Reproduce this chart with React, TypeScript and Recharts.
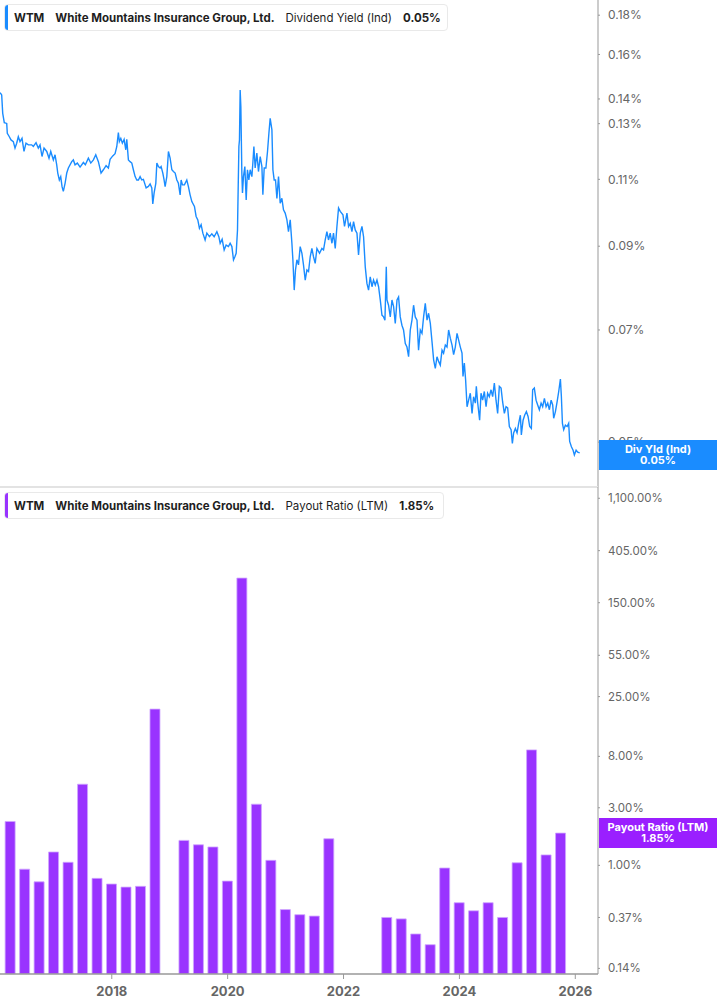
import React from "react";
import { ComposedChart, LineChart, Line, Bar, XAxis, YAxis } from "recharts";

// daily dividend yield (%); time as fractional year
const yieldYears = [
  2016.073, 2016.1, 2016.118, 2016.145, 2016.187, 2016.197, 2016.232, 2016.261, 2016.301, 2016.33,
  2016.359, 2016.387, 2016.416, 2016.451, 2016.485, 2016.52, 2016.56, 2016.618, 2016.646, 2016.693,
  2016.732, 2016.762, 2016.796, 2016.831, 2016.878, 2016.917, 2016.947, 2016.992, 2017.021, 2017.05,
  2017.068, 2017.095, 2017.119, 2017.142, 2017.164, 2017.194, 2017.223, 2017.251, 2017.309, 2017.337,
  2017.366, 2017.406, 2017.453, 2017.51, 2017.544, 2017.596, 2017.638, 2017.683, 2017.724, 2017.769,
  2017.815, 2017.855, 2017.902, 2017.942, 2017.971, 2018.017, 2018.057, 2018.087, 2018.114, 2018.131,
  2018.156, 2018.183, 2018.213, 2018.242, 2018.259, 2018.287, 2018.316, 2018.346, 2018.373, 2018.403,
  2018.432, 2018.46, 2018.489, 2018.518, 2018.546, 2018.593, 2018.632, 2018.662, 2018.691, 2018.708,
  2018.731, 2018.76, 2018.778, 2018.805, 2018.834, 2018.852, 2018.881, 2018.903, 2018.921, 2018.95,
  2018.978, 2019.007, 2019.037, 2019.064, 2019.094, 2019.123, 2019.15, 2019.18, 2019.197, 2019.22,
  2019.254, 2019.295, 2019.323, 2019.352, 2019.382, 2019.427, 2019.456, 2019.485, 2019.513, 2019.542,
  2019.572, 2019.611, 2019.641, 2019.686, 2019.727, 2019.767, 2019.814, 2019.848, 2019.871, 2019.905,
  2019.94, 2019.974, 2020.014, 2020.043, 2020.073, 2020.101, 2020.125, 2020.147, 2020.17, 2020.176,
  2020.194, 2020.204, 2020.216, 2020.228, 2020.245, 2020.256, 2020.273, 2020.297, 2020.32, 2020.342,
  2020.366, 2020.389, 2020.418, 2020.435, 2020.453, 2020.475, 2020.504, 2020.532, 2020.562, 2020.591,
  2020.608, 2020.631, 2020.66, 2020.688, 2020.712, 2020.734, 2020.764, 2020.781, 2020.803, 2020.826,
  2020.85, 2020.878, 2020.907, 2020.936, 2020.964, 2020.993, 2021.023, 2021.05, 2021.08, 2021.109,
  2021.126, 2021.149, 2021.171, 2021.195, 2021.223, 2021.252, 2021.282, 2021.309, 2021.339, 2021.368,
  2021.396, 2021.425, 2021.454, 2021.482, 2021.511, 2021.541, 2021.586, 2021.627, 2021.655, 2021.684,
  2021.713, 2021.741, 2021.77, 2021.8, 2021.827, 2021.857, 2021.886, 2021.914, 2021.943, 2021.99,
  2022.017, 2022.059, 2022.087, 2022.116, 2022.145, 2022.173, 2022.202, 2022.232, 2022.259, 2022.289,
  2022.318, 2022.346, 2022.375, 2022.404, 2022.432, 2022.461, 2022.491, 2022.518, 2022.548, 2022.577,
  2022.605, 2022.634, 2022.663, 2022.691, 2022.715, 2022.738, 2022.75, 2022.777, 2022.807, 2022.836,
  2022.864, 2022.893, 2022.923, 2022.95, 2022.979, 2023.008, 2023.036, 2023.066, 2023.095, 2023.123,
  2023.152, 2023.181, 2023.209, 2023.238, 2023.268, 2023.295, 2023.325, 2023.354, 2023.382, 2023.411,
  2023.441, 2023.468, 2023.498, 2023.527, 2023.555, 2023.584, 2023.613, 2023.641, 2023.67, 2023.7,
  2023.727, 2023.757, 2023.786, 2023.814, 2023.843, 2023.873, 2023.9, 2023.929, 2023.959, 2023.987,
  2024.016, 2024.045, 2024.062, 2024.085, 2024.107, 2024.132, 2024.159, 2024.188, 2024.218, 2024.245,
  2024.275, 2024.292, 2024.314, 2024.349, 2024.373, 2024.401, 2024.43, 2024.46, 2024.487, 2024.516,
  2024.546, 2024.574, 2024.603, 2024.632, 2024.66, 2024.689, 2024.719, 2024.746, 2024.776, 2024.805,
  2024.833, 2024.862, 2024.892, 2024.914, 2024.936, 2024.966, 2024.995, 2025.023, 2025.052, 2025.069,
  2025.099, 2025.126, 2025.156, 2025.185, 2025.213, 2025.242, 2025.264, 2025.293, 2025.323, 2025.351,
  2025.38, 2025.41, 2025.437, 2025.467, 2025.496, 2025.524, 2025.553, 2025.583, 2025.61, 2025.627,
  2025.657, 2025.686, 2025.714, 2025.743, 2025.76, 2025.778, 2025.8, 2025.829, 2025.859, 2025.886,
  2025.903, 2025.933, 2025.962, 2025.984, 2026.014, 2026.042, 2026.076,
];

const yieldValues = [
  0.1427, 0.1417, 0.1341, 0.1304, 0.1301, 0.1263, 0.125, 0.1238, 0.1232, 0.1208,
  0.1226, 0.125, 0.1232, 0.1244, 0.1196, 0.1226, 0.122, 0.122, 0.1214, 0.1228,
  0.1208, 0.122, 0.1178, 0.1208, 0.1196, 0.1172, 0.1196, 0.1166, 0.1184, 0.1149,
  0.1121, 0.1098, 0.1109, 0.1076, 0.1061, 0.1087, 0.1121, 0.1138, 0.116, 0.1166,
  0.1149, 0.1155, 0.1141, 0.1157, 0.1149, 0.1172, 0.1155, 0.1166, 0.1184, 0.116,
  0.1121, 0.1132, 0.1146, 0.1138, 0.1168, 0.118, 0.1188, 0.1214, 0.1266, 0.1232,
  0.1244, 0.1226, 0.124, 0.1202, 0.124, 0.1166, 0.116, 0.1155, 0.1132, 0.1109,
  0.1098, 0.1098, 0.1109, 0.1098, 0.11, 0.1072, 0.1077, 0.1085, 0.1072, 0.1022,
  0.1056, 0.1087, 0.1155, 0.1143, 0.1138, 0.1143, 0.1121, 0.1098, 0.1076, 0.1109,
  0.1196, 0.1172, 0.1132, 0.1126, 0.1121, 0.1098, 0.1087, 0.105, 0.1098, 0.1082,
  0.1082, 0.1098, 0.1076, 0.105, 0.1029, 0.1014, 0.0984, 0.0974, 0.095, 0.096,
  0.0936, 0.0917, 0.0936, 0.0926, 0.0934, 0.0926, 0.094, 0.0926, 0.0908, 0.0919,
  0.089, 0.0903, 0.0899, 0.0908, 0.0899, 0.0864, 0.0872, 0.0881, 0.0945, 0.1009,
  0.1214, 0.1238, 0.1438, 0.1368, 0.1121, 0.1056, 0.1109, 0.1143, 0.1034, 0.1132,
  0.1098, 0.1132, 0.1109, 0.1155, 0.1214, 0.1138, 0.119, 0.1126, 0.1178, 0.1143,
  0.105, 0.1138, 0.1138, 0.1196, 0.1263, 0.1321, 0.1276, 0.1132, 0.1098, 0.1098,
  0.1039, 0.1109, 0.1024, 0.1039, 0.1004, 0.0994, 0.0974, 0.094, 0.0974, 0.0908,
  0.0864, 0.0789, 0.0838, 0.0864, 0.0851, 0.0899, 0.0881, 0.0851, 0.0813, 0.0838,
  0.0834, 0.0872, 0.0894, 0.0872, 0.0855, 0.0894, 0.0881, 0.0894, 0.089, 0.0917,
  0.094, 0.0917, 0.0936, 0.0908, 0.0936, 0.0894, 0.0955, 0.1009, 0.0999, 0.0989,
  0.0955, 0.0994, 0.0955, 0.0964, 0.094, 0.0969, 0.0945, 0.0936, 0.0877, 0.0936,
  0.0955, 0.0926, 0.0846, 0.0805, 0.0789, 0.0821, 0.0797, 0.0813, 0.0801, 0.0813,
  0.0797, 0.0766, 0.0732, 0.0728, 0.0721, 0.0846, 0.0766, 0.0754, 0.0728, 0.0766,
  0.0751, 0.0714, 0.0766, 0.0773, 0.0728, 0.071, 0.07, 0.0672, 0.0665, 0.0646,
  0.07, 0.0721, 0.0754, 0.0728, 0.0721, 0.0659, 0.07, 0.0693, 0.0728, 0.0758,
  0.0721, 0.0736, 0.0714, 0.0676, 0.064, 0.0624, 0.0646, 0.0637, 0.063, 0.0659,
  0.0653, 0.0669, 0.0665, 0.07, 0.0683, 0.0669, 0.065, 0.0665, 0.0693, 0.0679,
  0.0665, 0.0653, 0.0609, 0.0634, 0.0603, 0.0556, 0.0567, 0.0579, 0.0545, 0.0573,
  0.0562, 0.0591, 0.0564, 0.0534, 0.0579, 0.0567, 0.0582, 0.0556, 0.0579, 0.0573,
  0.0585, 0.0573, 0.0597, 0.0567, 0.0545, 0.0591, 0.0588, 0.0564, 0.0545, 0.0556,
  0.0554, 0.0524, 0.0519, 0.0498, 0.0514, 0.0521, 0.0514, 0.0529, 0.0542, 0.0511,
  0.0534, 0.0542, 0.0548, 0.054, 0.0524, 0.0521, 0.0585, 0.0588, 0.0567, 0.0559,
  0.0551, 0.0562, 0.0556, 0.057, 0.0556, 0.0562, 0.0551, 0.0567, 0.0559, 0.0537,
  0.0548, 0.0564, 0.0582, 0.0604, 0.0573, 0.0529, 0.0519, 0.0526, 0.0524, 0.0529,
  0.0501, 0.0493, 0.0488, 0.0481, 0.0488, 0.0485, 0.0484,
];

// quarterly payout ratio (LTM, %), quarter-end dates as fractional year
const payoutQuarters = [
  2016.25, 2016.5, 2016.75, 2017.0, 2017.25, 2017.5, 2017.75, 2018.0, 2018.25,
  2018.5, 2018.75, 2019.25, 2019.5, 2019.75, 2020.0, 2020.25, 2020.5, 2020.75, 2021.0,
  2021.25, 2021.5, 2021.75, 2022.75, 2023.0, 2023.25, 2023.5, 2023.75, 2024.0, 2024.25,
  2024.5, 2024.75, 2025.0, 2025.25, 2025.5, 2025.75,
];
const payoutValues = [
  2.31, 0.93, 0.73, 1.29, 1.06, 4.7, 0.78, 0.7, 0.66,
  0.67, 19.7, 1.61, 1.48, 1.42, 0.74, 240, 3.21, 1.1, 0.43,
  0.39, 0.38, 1.66, 0.37, 0.36, 0.27, 0.22, 0.95, 0.49, 0.42,
  0.49, 0.37, 1.05, 9.05, 1.22, 1.85,
];

const yieldTicks = [0.05, 0.07, 0.09, 0.11, 0.13, 0.14, 0.16, 0.18];
const payoutTicks = [0.14, 0.37, 1, 3, 8, 25, 55, 150, 405, 1100];
const yearTicks = [2018, 2020, 2022, 2024, 2026];

const yieldData = yieldYears.map((t, i) => ({ t, v: yieldValues[i] }));
const payoutData = payoutQuarters.map((t, i) => ({ t, v: payoutValues[i] }));

const BLUE = "#1a8cff";
const PURPLE = "#9933ff";
const FONT = "Inter, sans-serif";
const X_DOMAIN = [2016.071, 2026.392];

function Legend({ top, width, color, metric, value }) {
  return (
    <div
      style={{
        position: "absolute",
        left: 4,
        top,
        width,
        height: 27,
        boxSizing: "border-box",
        border: "1px solid #e9e9e9",
        borderRadius: 4,
        background: "#fff",
        display: "flex",
        alignItems: "center",
        fontFamily: FONT,
        fontSize: 11.5,
        color: "#1e1e1e",
        overflow: "hidden",
        whiteSpace: "nowrap",
      }}
    >
      <div style={{ width: 3, alignSelf: "stretch", background: color }} />
      <span style={{ fontWeight: 700, marginLeft: 6 }}>WTM</span>
      <span style={{ fontWeight: 700, marginLeft: 11 }}>White Mountains Insurance Group, Ltd.</span>
      <span style={{ marginLeft: 11 }}>{metric}</span>
      <span style={{ fontWeight: 700, marginLeft: 11 }}>{value}</span>
    </div>
  );
}

function Tag({ top, color, label, value }) {
  return (
    <div
      style={{
        position: "absolute",
        left: 599,
        top,
        width: 118,
        height: 30,
        background: color,
        color: "#fff",
        fontFamily: FONT,
        fontWeight: 700,
        fontSize: 11,
        lineHeight: "11px",
        textAlign: "center",
        display: "flex",
        flexDirection: "column",
        justifyContent: "center",
      }}
    >
      <div>{label}</div>
      <div>{value}</div>
    </div>
  );
}

export default function App() {
  return (
    <div style={{ position: "absolute", left: 0, top: 0, width: 717, height: 1005, background: "#fff" }}>
      {/* Dividend yield panel */}
      <div style={{ position: "absolute", left: 0, top: 0 }}>
        <LineChart width={717} height={487} data={yieldData} margin={{ top: 0, right: 0, bottom: 0, left: 0 }}>
          <XAxis dataKey="t" type="number" domain={X_DOMAIN} allowDataOverflow hide />
          <YAxis
            orientation="right"
            scale="log"
            domain={[0.0437, 0.1884]}
            allowDataOverflow
            ticks={yieldTicks}
            width={119}
            axisLine={{ stroke: "#999" }}
            tickLine={{ stroke: "#999" }}
            tickSize={2}
            tickMargin={8}
            tick={{ fontSize: 12, fill: "#666", fontFamily: FONT }}
            tickFormatter={(v) => `${v.toFixed(2)}%`}
          />
          <Line
            dataKey="v"
            stroke={BLUE}
            strokeWidth={1.4}
            dot={false}
            activeDot={false}
            type="linear"
            isAnimationActive={false}
          />
        </LineChart>
      </div>

      <div style={{ position: "absolute", left: 0, top: 486, width: 598, height: 2, background: "#e3e3e3" }} />

      {/* Payout ratio panel */}
      <div style={{ position: "absolute", left: 0, top: 487 }}>
        <ComposedChart width={717} height={518} data={payoutData} margin={{ top: 0, right: 0, bottom: 0, left: 0 }}>
          <XAxis
            dataKey="t"
            type="number"
            domain={X_DOMAIN}
            allowDataOverflow
            ticks={yearTicks}
            height={31}
            axisLine={{ stroke: "#999", strokeWidth: 1.5 }}
            tickLine={{ stroke: "#999" }}
            tickSize={5}
            tickMargin={8}
            tick={{ fontSize: 13, fill: "#666", fontWeight: 700, fontFamily: FONT }}
          />
          <YAxis
            orientation="right"
            scale="log"
            domain={[0.1258, 1364]}
            allowDataOverflow
            ticks={payoutTicks}
            width={119}
            axisLine={{ stroke: "#999" }}
            tickLine={{ stroke: "#999" }}
            tickSize={2}
            tickMargin={8}
            tick={{ fontSize: 11.5, fill: "#666", fontFamily: FONT }}
            tickFormatter={(v) =>
              `${v.toLocaleString("en-US", { minimumFractionDigits: 2, maximumFractionDigits: 2 })}%`
            }
          />
          <Bar dataKey="v" fill={PURPLE} stroke="#cfa6ff" strokeWidth={0.8} barSize={10} isAnimationActive={false} />
        </ComposedChart>
      </div>

      <Legend top={4} width={444} color={BLUE} metric="Dividend Yield (Ind)" value="0.05%" />
      <Legend top={492} width={440} color={PURPLE} metric="Payout Ratio (LTM)" value="1.85%" />
      <Tag top={440} color={BLUE} label="Div Yld (Ind)" value="0.05%" />
      <Tag top={818} color="#9a1fff" label="Payout Ratio (LTM)" value="1.85%" />
    </div>
  );
}
